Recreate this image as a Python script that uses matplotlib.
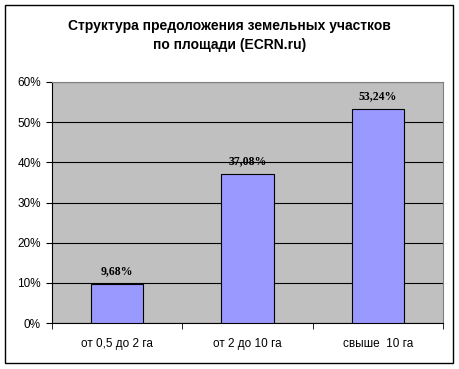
import numpy as np
import matplotlib.pyplot as plt
from matplotlib.patches import Rectangle

categories = ["от 0,5 до 2 га", "от 2 до 10 га", "свыше  10 га"]
shares = [9.68, 37.08, 53.24]
y_ticks = [0, 10, 20, 30, 40, 50, 60]
title = "Структура предоложения земельных участков\nпо площади (ECRN.ru)"

plt.rcParams['font.family'] = ['Liberation Sans', 'DejaVu Sans']

fig = plt.figure(figsize=(4.59, 3.69), dpi=100)
fig.patches.append(Rectangle((5 / 459, 6 / 369), 448 / 459, 358 / 369,
                             transform=fig.transFigure, fill=False,
                             edgecolor="black", linewidth=1))

ax = fig.add_axes([52 / 459, 46 / 369, 391 / 459, 241 / 369])
ax.set_facecolor("#C0C0C0")
for s in ax.spines.values():
    s.set_edgecolor("#808080")
    s.set_linewidth(0.8)
ax.spines["left"].set_edgecolor("black")
ax.spines["bottom"].set_edgecolor("black")

x = np.arange(len(categories))
ax.bar(x, shares, width=0.4, color="#9999FF", edgecolor="black", linewidth=0.8, zorder=3)
for xi, v in zip(x, shares):
    ax.text(xi, v + 1.8, f"{v:.2f}%".replace(".", ","), ha="center", va="bottom",
            fontsize=8.5, fontweight="bold", family="Liberation Serif", zorder=4)

ax.set_xlim(-0.5, len(categories) - 0.5)
ax.set_ylim(0, 60)
ax.set_yticks(y_ticks)
ax.set_yticklabels([f"{t}%" for t in y_ticks], fontsize=8.5)
ax.yaxis.grid(True, color="black", linewidth=0.8, zorder=1)
ax.set_axisbelow(True)

ax.set_xticks(x)
ax.set_xticklabels(categories, fontsize=8.5)
ax.tick_params(axis="x", length=0, pad=11)
ax.set_xticks(np.arange(len(categories) + 1) - 0.5, minor=True)
ax.tick_params(axis="x", which="minor", length=4, direction="out", color="black")
ax.tick_params(axis="y", length=4, direction="out", color="black", pad=4)

fig.text(0.5, 0.948, title, ha="center", va="top", fontsize=10, fontweight="bold",
         linespacing=1.4)

fig.savefig("out.png", dpi=100)
